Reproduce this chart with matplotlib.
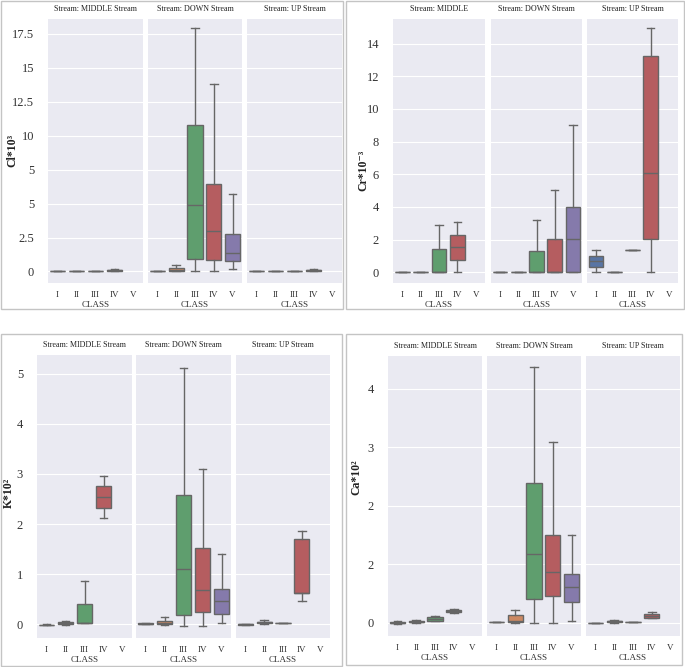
import colorsys
import matplotlib
matplotlib.use("Agg")
import matplotlib.pyplot as plt
from matplotlib.patches import Rectangle

plt.rcParams['font.family'] = ['Liberation Serif', 'DejaVu Serif']

# ---- data (whislo, q1, median, q3, whishi) per class I..V, None = no data ----
classes = ['I', 'II', 'III', 'IV', 'V']

cl_middle = [(0, 0, 0, 0, 0), (0, 0, 0, 0, 0), (0.02, 0.03, 0.04, 0.05, 0.06),
             (0.05, 0.07, 0.1, 0.14, 0.18), None]
cl_down = [(0, 0, 0, 0, 0), (0, 0.02, 0.12, 0.22, 0.44), (0, 0.91, 4.87, 10.79, 17.97),
           (0, 0.81, 3.0, 6.47, 13.79), (0.17, 0.74, 1.35, 2.78, 5.73)]
cl_up = [(0, 0, 0, 0, 0), (0, 0, 0, 0, 0), (0, 0, 0, 0, 0),
         (0.04, 0.06, 0.09, 0.12, 0.18), None]

cr_middle = [(0, 0, 0, 0, 0), (0, 0, 0, 0, 0), (0, 0, 0, 1.41, 2.91),
             (0, 0.75, 1.55, 2.3, 3.06), None]
cr_down = [(0, 0, 0, 0, 0), (0, 0, 0, 0, 0), (0, 0, 0, 1.32, 3.18),
           (0, 0, 0, 2.02, 5.01), (0, 0, 2.02, 3.99, 9.0)]
cr_up = [(0, 0.35, 0.67, 1.0, 1.37), (0, 0, 0, 0, 0), (1.37, 1.37, 1.37, 1.37, 1.37),
         (0, 2.04, 6.07, 13.23, 14.92), None]

k_middle = [(-0.01, -0.01, -0.01, -0.005, 0.0), (-0.01, 0.0, 0.02, 0.05, 0.07),
            (0.02, 0.02, 0.03, 0.41, 0.86), (2.13, 2.33, 2.54, 2.75, 2.95), None]
k_down = [(0, 0, 0.01, 0.02, 0.03), (-0.02, 0.0, 0.03, 0.07, 0.15),
          (-0.03, 0.19, 1.10, 2.57, 5.12), (-0.03, 0.24, 0.68, 1.52, 3.09),
          (0.03, 0.21, 0.46, 0.70, 1.40)]
k_up = [(-0.01, -0.01, 0.0, 0.0, 0.0), (0.0, 0.02, 0.04, 0.05, 0.09),
        (0.02, 0.02, 0.02, 0.02, 0.02), (0.46, 0.62, 0.63, 1.71, 1.86), None]

ca_middle = [(-0.02, -0.015, -0.005, 0.005, 0.02), (0.0, 0.005, 0.015, 0.025, 0.04),
             (0.02, 0.03, 0.06, 0.09, 0.12), (0.17, 0.18, 0.2, 0.22, 0.23), None]
ca_down = [(0.005, 0.005, 0.005, 0.005, 0.005), (0, 0.01, 0.03, 0.13, 0.21),
           (-0.01, 0.41, 1.17, 2.38, 4.38), (-0.01, 0.45, 0.86, 1.49, 3.09),
           (0.03, 0.35, 0.6, 0.83, 1.5)]
ca_up = [(0, 0, 0, 0, 0), (0, 0.01, 0.02, 0.03, 0.04), (0.01, 0.01, 0.01, 0.01, 0.01),
         (0.07, 0.08, 0.11, 0.15, 0.18), None]

cl_ticks = [0, 2.5, 5, 7.5, 10, 12.5, 15, 17.5]
cl_ticklabels = ['0', '2.5', '5', '5', '10', '12.5', '15', '17.5']
cr_ticks = [0, 2, 4, 6, 8, 10, 12, 14]
cr_ticklabels = ['0', '2', '4', '6', '8', '10', '12', '14']
k_ticks = [0, 1, 2, 3, 4, 5]
k_ticklabels = ['0', '1', '2', '3', '4', '5']
ca_ticks = [0, 1, 2, 3, 4]
ca_ticklabels = ['0', '2', '2', '3', '4']

titles_a = ['Stream: MIDDLE Stream', 'Stream: DOWN Stream', 'Stream: UP Stream']
titles_b = ['Stream: MIDDLE', 'Stream: DOWN Stream', 'Stream: UP Stream']

# seaborn "deep" colours, desaturated like seaborn boxplot
deep = ['#4C72B0', '#DD8452', '#55A868', '#C44E52', '#8172B3']


def desat(hexc, s=0.75):
    r, g, b = matplotlib.colors.to_rgb(hexc)
    h, l, sat = colorsys.rgb_to_hls(r, g, b)
    return colorsys.hls_to_rgb(h, l, sat * s)


colors = [desat(c) for c in deep]

W, H = 685, 667
fig = plt.figure(figsize=(W / 100, H / 100), dpi=100)


def px(x0, y0, x1, y1):
    return [x0 / W, 1 - y1 / H, (x1 - x0) / W, (y1 - y0) / H]


# panel frames
for (x0, y0, x1, y1) in [(1, 1, 343, 309), (346, 1, 684, 309),
                         (1, 334, 342, 666), (346, 334, 682, 665)]:
    fig.patches.append(Rectangle((x0 / W, 1 - y1 / H), (x1 - x0) / W, (y1 - y0) / H,
                                 transform=fig.transFigure, fill=False,
                                 edgecolor='#c4c4c4', lw=1.0))

line_c = '#666666'


def facet(rect, data, ylim, ticks, ticklabels, title, first):
    ax = fig.add_axes(px(*rect))
    ax.set_facecolor('#EAEAF2')
    for s in ax.spines.values():
        s.set_visible(False)
    stats, pos, cols = [], [], []
    for i, d in enumerate(data):
        if d is None:
            continue
        lo, q1, med, q3, hi = d
        stats.append(dict(whislo=lo, q1=q1, med=med, q3=q3, whishi=hi, fliers=[]))
        pos.append(i)
        cols.append(colors[i])
    bp = ax.bxp(stats, positions=pos, widths=0.8, patch_artist=True, showfliers=False,
                boxprops=dict(edgecolor=line_c, linewidth=1.0),
                medianprops=dict(color=line_c, linewidth=1.0),
                whiskerprops=dict(color=line_c, linewidth=1.0),
                capprops=dict(color=line_c, linewidth=1.0))
    for patch, c in zip(bp['boxes'], cols):
        patch.set_facecolor(c)
    ax.set_xlim(-0.5, 4.5)
    ax.set_ylim(*ylim)
    ax.set_xticks(range(5))
    ax.set_xticklabels(classes, fontsize=6.5, color='#333333')
    ax.set_yticks(ticks)
    ax.yaxis.grid(True, color='white', lw=0.8)
    ax.xaxis.grid(False)
    ax.set_axisbelow(True)
    ax.tick_params(length=0, pad=6)
    if first:
        ax.set_yticklabels(ticklabels, fontsize=9, color='#333333')
        ax.tick_params(axis='y', pad=10)
    else:
        ax.set_yticklabels([])
    ax.set_xlabel('CLASS', fontsize=6.5, color='#333333', labelpad=1)
    ax.set_title(title, fontsize=5.8, color='#222222', pad=6)
    return ax


panels = [
    ([(48, 19, 143, 283), (148, 19, 242, 283), (247, 19, 342, 283)],
     [cl_middle, cl_down, cl_up], (-0.85, 18.6), cl_ticks, cl_ticklabels, titles_a,
     'Cl*10³', (12, 150)),
    ([(393, 19, 485, 283), (491, 19, 582, 283), (587, 19, 678, 283)],
     [cr_middle, cr_down, cr_up], (-0.65, 15.5), cr_ticks, cr_ticklabels, titles_b,
     'Cr*10⁻³', (363, 170)),
    ([(37, 355, 132, 638), (136, 355, 231, 638), (236, 355, 330, 638)],
     [k_middle, k_down, k_up], (-0.27, 5.37), k_ticks, k_ticklabels, titles_a,
     'K*10²', (9, 493)),
    ([(388, 356, 482, 636), (487, 356, 581, 636), (586, 356, 680, 636)],
     [ca_middle, ca_down, ca_up], (-0.23, 4.56), ca_ticks, ca_ticklabels, titles_a,
     'Ca*10²', (356, 477)),
]

for rects, datas, ylim, ticks, tlabels, titles, ylabel, lpos in panels:
    for j in range(3):
        facet(rects[j], datas[j], ylim, ticks, tlabels, titles[j], j == 0)
    fig.text(lpos[0] / W, 1 - lpos[1] / H, ylabel, rotation=90, fontsize=8.5,
             fontweight='bold', ha='center', va='center', color='#222222')

fig.savefig('out.png', dpi=100)
